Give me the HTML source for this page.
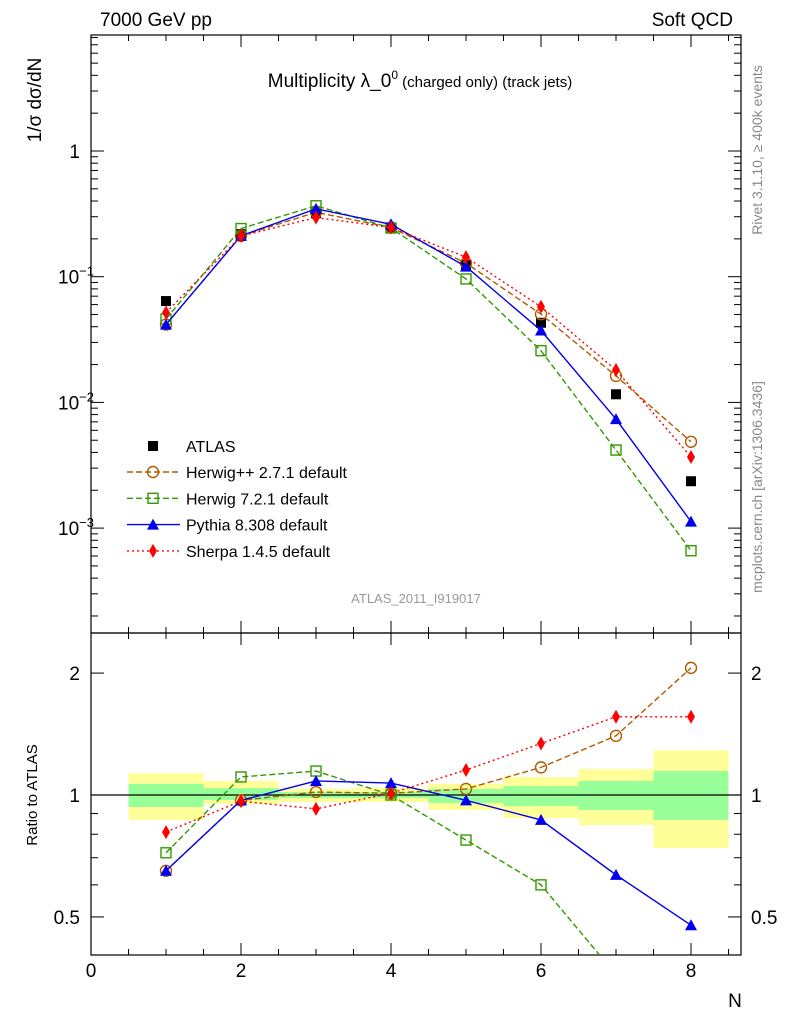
<!DOCTYPE html>
<html><head><meta charset="utf-8"><style>
body{margin:0;background:#fff}
svg{display:block;font-family:"Liberation Sans","DejaVu Sans",sans-serif}
</style></head><body>
<svg id="chart" width="786" height="1024" viewBox="0 0 786 1024" xmlns="http://www.w3.org/2000/svg">
<defs>
<clipPath id="cm"><rect x="91" y="35" width="650" height="598"/></clipPath>
<clipPath id="cr"><rect x="91" y="633" width="650" height="322"/></clipPath>
</defs>
<text x="100" y="26" font-size="19">7000 GeV pp</text>
<text x="733" y="26" font-size="19" text-anchor="end">Soft QCD</text>
<text x="420" y="87" font-size="19" text-anchor="middle">Multiplicity λ_0<tspan font-size="12" dy="-8">0</tspan><tspan font-size="15" dy="8"> (charged only) (track jets)</tspan></text>
<text transform="translate(41,100) rotate(-90)" font-size="19" text-anchor="middle">1/σ dσ/dN</text>
<text transform="translate(762,150) rotate(-90)" font-size="14" fill="#888" text-anchor="middle">Rivet 3.1.10, ≥ 400k events</text>
<text transform="translate(762,487) rotate(-90)" font-size="14" fill="#888" text-anchor="middle">mcplots.cern.ch [arXiv:1306.3436]</text>
<text x="416" y="603" font-size="13" fill="#999" text-anchor="middle">ATLAS_2011_I919017</text>
<text transform="translate(37,795) rotate(-90)" font-size="15" text-anchor="middle">Ratio to ATLAS</text>
<text x="735" y="1007" font-size="19" text-anchor="middle">N</text>
<g id="g"></g>
</svg>
<script>
const categories=[1,2,3,4,5,6,7,8];
const atlas=[0.064,0.218,0.32,0.244,0.124,0.043,0.0116,0.00236];
const herwigpp=[0.65,0.97,1.017,1.01,1.035,1.17,1.40,2.06];
const herwig7=[0.72,1.108,1.146,1.0,0.774,0.60,0.36,0.28];
const pythia=[0.65,0.97,1.083,1.07,0.97,0.868,0.635,0.477];
const sherpa=[0.81,0.966,0.924,1.01,1.153,1.34,1.56,1.56];
const bandYellowHi=[1.133,1.083,1.035,1.04,1.065,1.108,1.159,1.29];
const bandYellowLo=[0.868,0.95,0.961,0.961,0.918,0.877,0.843,0.74];
const bandGreenHi=[1.065,1.04,1.017,1.017,1.035,1.052,1.083,1.146];
const bandGreenLo=[0.934,0.972,0.983,0.983,0.956,0.939,0.918,0.868];
const xTicks=[0,2,4,6,8];

const NS='http://www.w3.org/2000/svg';
const G=document.getElementById('g');
function mk(t,a,p){const e=document.createElementNS(NS,t);for(const k in a)e.setAttribute(k,a[k]);(p||G).appendChild(e);return e;}
const X=v=>91+75*v;
const YM=v=>151-125.7*Math.log10(v);
const YR=v=>795-405*Math.log10(v);

let f=mk('rect',{x:91,y:35,width:650,height:598,fill:'none',stroke:'#000','stroke-width':1.2});

f=mk('rect',{x:91,y:633,width:650,height:322,fill:'none',stroke:'#000','stroke-width':1.2});


const gb=mk('g',{'clip-path':'url(#cr)'});

categories.forEach((c,i)=>{
  let r=mk('rect',{x:X(c-0.5),y:YR(bandYellowHi[i]),width:75,height:YR(bandYellowLo[i])-YR(bandYellowHi[i]),fill:'#ffff99'},gb);
  
  r=mk('rect',{x:X(c-0.5),y:YR(bandGreenHi[i]),width:75,height:YR(bandGreenLo[i])-YR(bandGreenHi[i]),fill:'#99ff99'},gb);
  
});
mk('line',{x1:91,x2:741,y1:YR(1),y2:YR(1),stroke:'#000','stroke-width':1.2});

const tx=mk('g',{});

for(let v=0;v<=8.6;v+=0.5){
  const maj=Math.abs(v-Math.round(v/2)*2)<1e-6;const L=maj?12:6;
  [[35,1],[633,-1],[633,1],[955,-1]].forEach(([y,d])=>mk('line',{x1:X(v),x2:X(v),y1:y,y2:y+d*L,stroke:'#000'},tx));
}
xTicks.forEach(v=>{const t=mk('text',{x:X(v),y:977,'font-size':19,'text-anchor':'middle'},tx);t.textContent=v;
  });
const ty=mk('g',{});

for(let e=-4;e<=1;e++)for(let m=1;m<10;m++){const v=m*Math.pow(10,e);const y=YM(v);if(y<35||y>633)continue;
  const L=m==1?13:7;mk('line',{x1:91,x2:91+L,y1:y,y2:y,stroke:'#000'},ty);mk('line',{x1:741,x2:741-L,y1:y,y2:y,stroke:'#000'},ty);}
[[1,'1'],[0.1,'10<tspan dy="-8" font-size="13">−1</tspan>'],[0.01,'10<tspan dy="-8" font-size="13">−2</tspan>'],[0.001,'10<tspan dy="-8" font-size="13">−3</tspan>']].forEach(([v,s])=>{
  const t=mk('text',{x:v==1?80:58,y:YM(v)+7,'font-size':19,'text-anchor':v==1?'end':'start'},ty);t.innerHTML=s;
  });
for(let m=4;m<=25;m++){const v=m/10;if(m>10&&m%10)continue;const y=YR(v);if(y<633||y>955)continue;
  const L=(v==0.5||v==1||v==2)?13:7;mk('line',{x1:91,x2:91+L,y1:y,y2:y,stroke:'#000'},ty);mk('line',{x1:741,x2:741-L,y1:y,y2:y,stroke:'#000'},ty);}
[[2,'2'],[1,'1'],[0.5,'0.5']].forEach(([v,s])=>{
  let t=mk('text',{x:80,y:YR(v)+7,'font-size':19,'text-anchor':'end'},ty);t.textContent=s;
  
  t=mk('text',{x:751,y:YR(v)+7,'font-size':19},ty);t.textContent=s;
  });

function marker(g,type,x,y,col){
  if(type=='sq')mk('rect',{x:x-5,y:y-5,width:10,height:10,fill:col},g);
  else if(type=='circ')mk('circle',{cx:x,cy:y,r:5.5,fill:'none',stroke:col,'stroke-width':1.4},g);
  else if(type=='osq')mk('rect',{x:x-5,y:y-5,width:10,height:10,fill:'none',stroke:col,'stroke-width':1.4},g);
  else if(type=='tri')mk('path',{d:`M${x} ${y-6}L${x+6} ${y+5}L${x-6} ${y+5}Z`,fill:col},g);
  else if(type=='dia')mk('path',{d:`M${x} ${y-7}L${x+4} ${y}L${x} ${y+7}L${x-4} ${y}Z`,fill:col},g);
}
const series=[
 {name:'herwigpp',d:herwigpp,col:'#b35900',dash:'6,3',m:'circ',label:'Herwig++ 2.7.1 default'},
 {name:'herwig7',d:herwig7,col:'#339900',dash:'6,3',m:'osq',label:'Herwig 7.2.1 default'},
 {name:'pythia',d:pythia,col:'#0000ee',dash:'',m:'tri',label:'Pythia 8.308 default'},
 {name:'sherpa',d:sherpa,col:'#ff0000',dash:'2,3',m:'dia',label:'Sherpa 1.4.5 default'}];
const gm=mk('g',{'clip-path':'url(#cm)'});
const ga=mk('g',{},gm);

categories.forEach((c,i)=>marker(ga,'sq',X(c),YM(atlas[i]),'#000'));
series.forEach(s=>{
  const g=mk('g',{},gm);
  
  mk('polyline',{points:categories.map((c,i)=>X(c)+','+YM(s.d[i]*atlas[i])).join(' '),fill:'none',stroke:s.col,'stroke-width':1.4,'stroke-dasharray':s.dash},g);
  categories.forEach((c,i)=>marker(g,s.m,X(c),YM(s.d[i]*atlas[i]),s.col));
});
const gr=mk('g',{'clip-path':'url(#cr)'});
series.forEach(s=>{
  const g=mk('g',{},gr);
  
  mk('polyline',{points:categories.map((c,i)=>X(c)+','+YR(s.d[i])).join(' '),fill:'none',stroke:s.col,'stroke-width':1.4,'stroke-dasharray':s.dash},g);
  categories.forEach((c,i)=>marker(g,s.m,X(c),YR(s.d[i]),s.col));
});
const gl=mk('g',{});

let e=mk('g',{},gl);
marker(e,'sq',153,446,'#000');let t=mk('text',{x:186,y:452,'font-size':16},e);t.textContent='ATLAS';
series.forEach((s,k)=>{
  const y=472+26.3*k;const g=mk('g',{},gl);
  
  mk('line',{x1:127,x2:180,y1:y,y2:y,stroke:s.col,'stroke-width':1.4,'stroke-dasharray':s.dash},g);
  marker(g,s.m,153,y,s.col);
  const tt=mk('text',{x:186,y:y+6,'font-size':16},g);tt.textContent=s.label;
});
</script>
</body></html>
